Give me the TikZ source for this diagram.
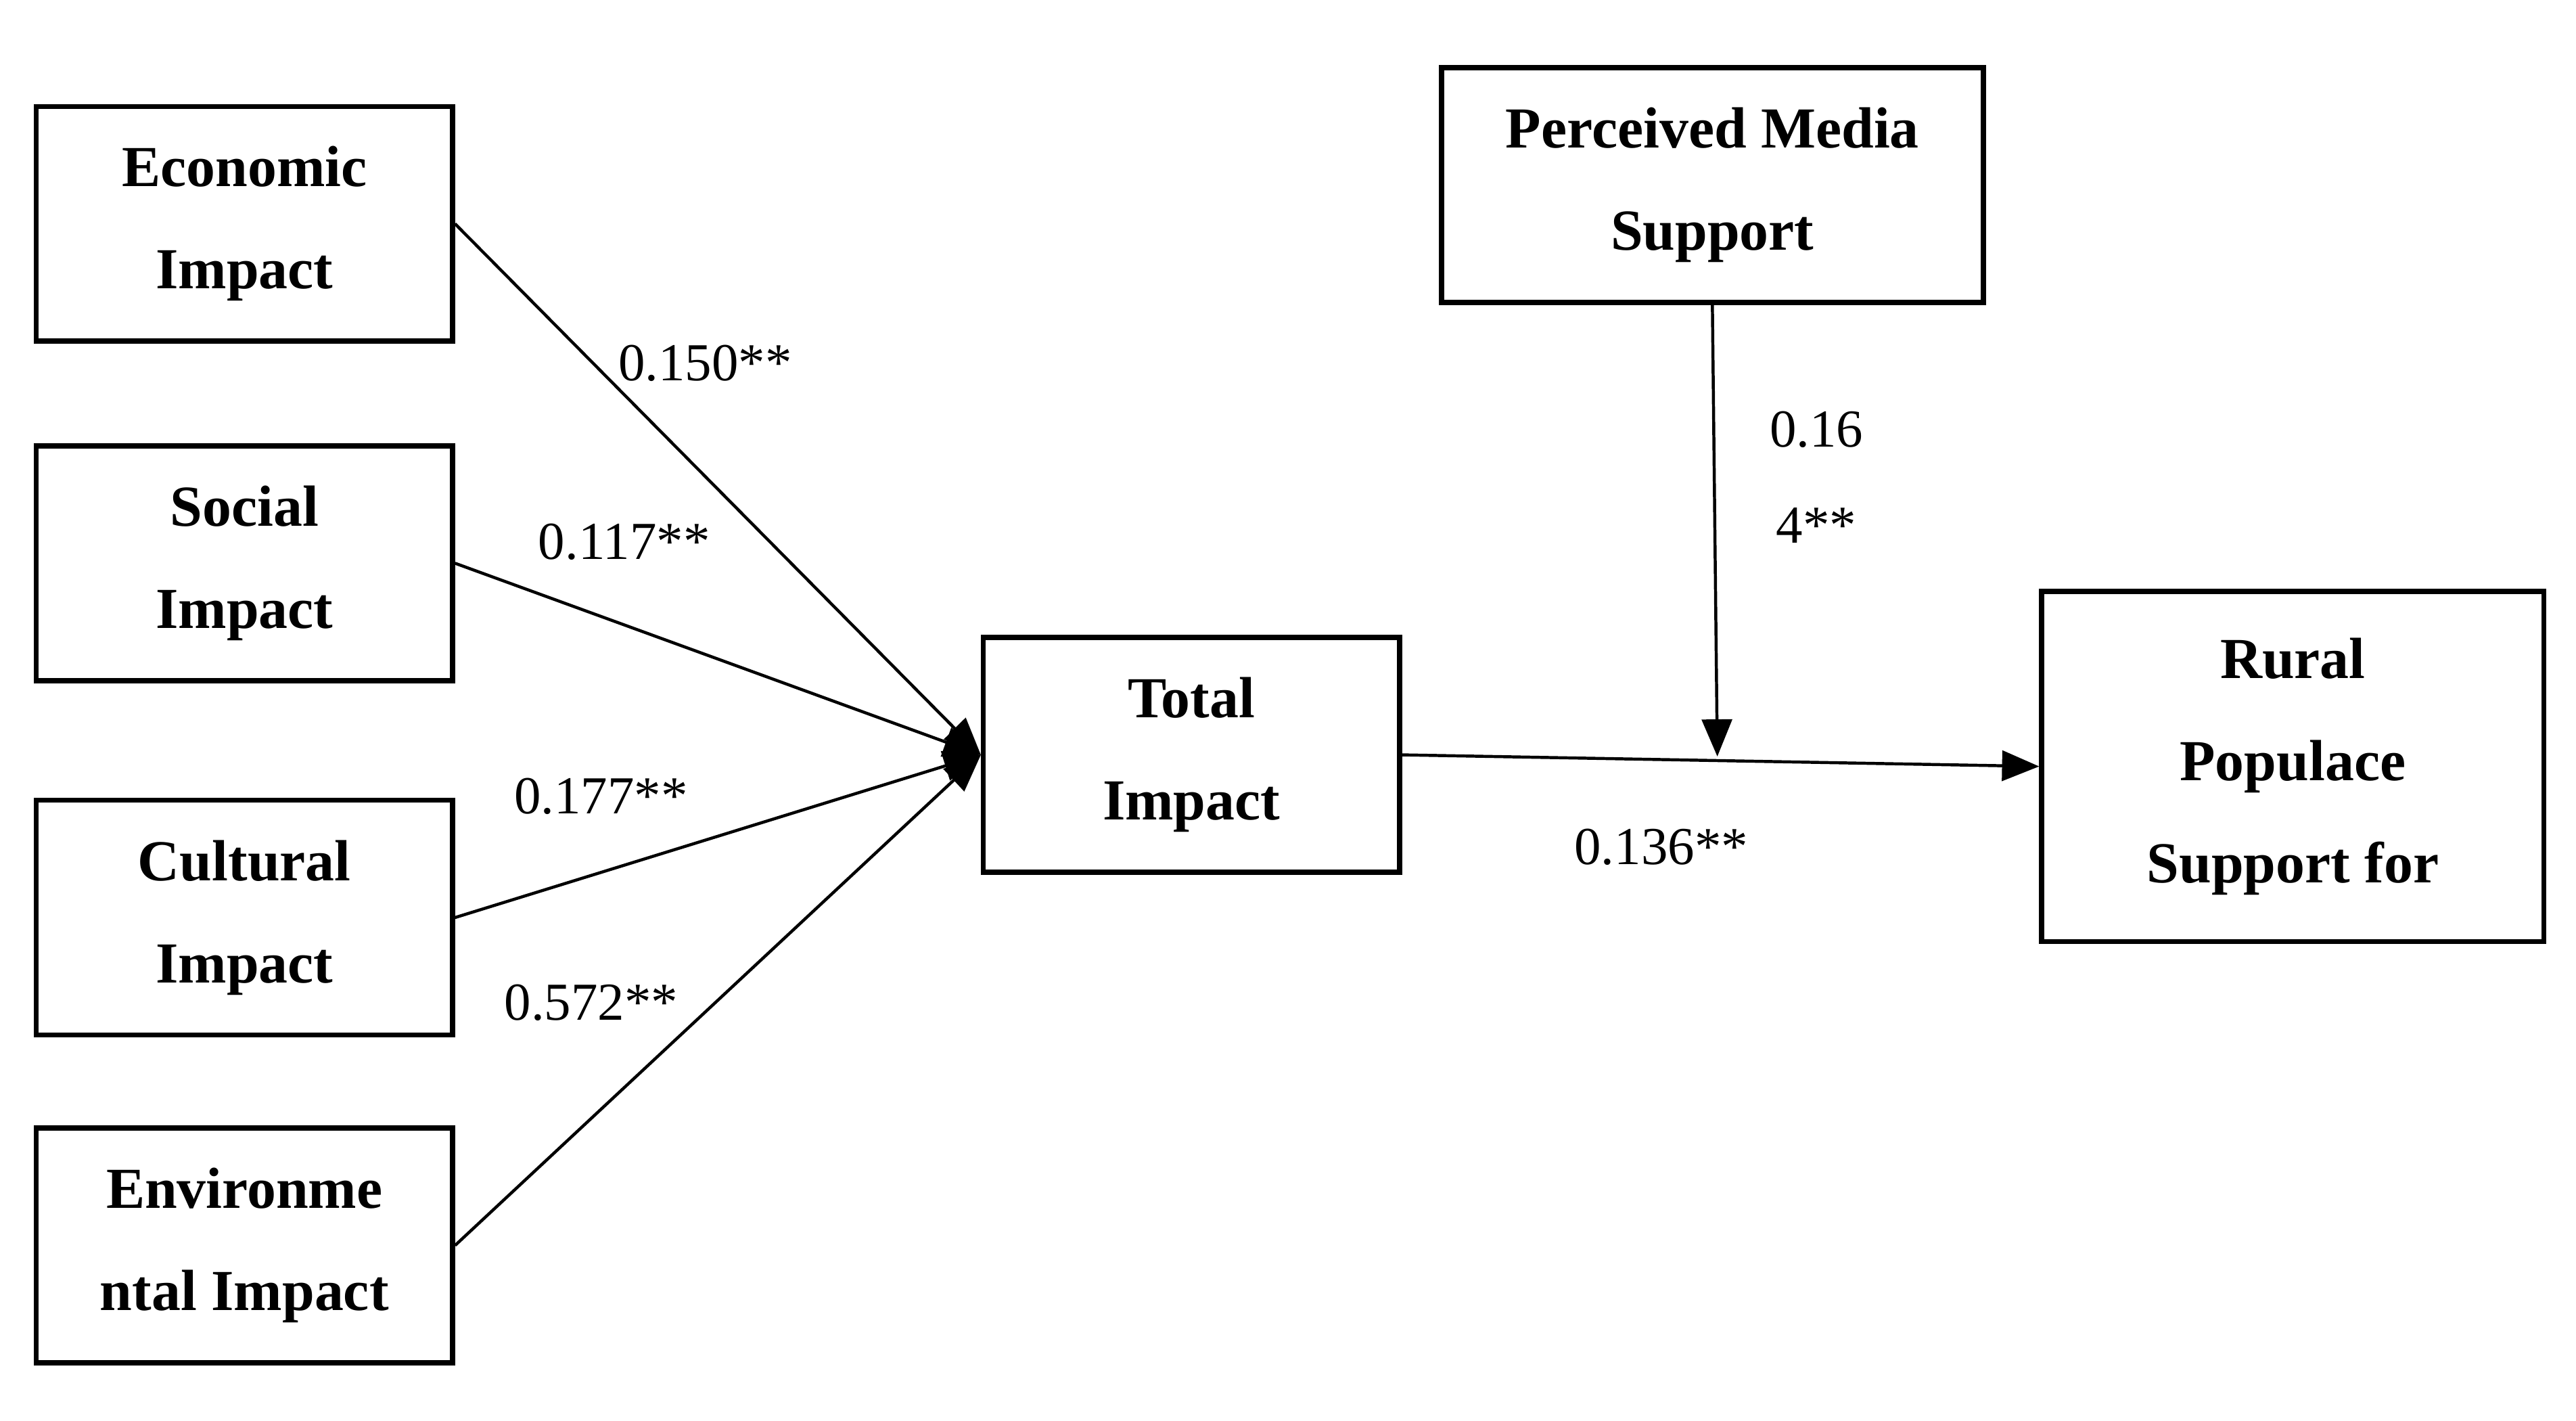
\documentclass[tikz,border=0pt]{standalone}
\usepackage{fontspec}
\setmainfont{Liberation Serif}
\usetikzlibrary{arrows.meta}
\begin{document}
\begin{tikzpicture}[x=0.025cm,y=-0.025cm,
  box/.style={draw,line width=2.2pt,inner sep=0pt,align=center,font=\fontsize{25}{44}\selectfont\bfseries},
  lab/.style={font=\fontsize{23}{30}\selectfont},
  arr/.style={line width=1.3pt,-{Triangle[length=16pt,width=13pt]}}]
\useasboundingbox (0,0) rectangle (1560,860);
\node[box,minimum width=6.3cm,minimum height=3.55cm] (eco) at (148,135.5) {Economic\\Impact};
\node[box,minimum width=6.3cm,minimum height=3.55cm] (soc) at (148,341) {Social\\Impact};
\node[box,minimum width=6.3cm,minimum height=3.55cm] (cul) at (148,555.5) {Cultural\\Impact};
\node[box,minimum width=6.3cm,minimum height=3.55cm] (env) at (148,754) {Environme\\ntal Impact};
\node[box,minimum width=6.3cm,minimum height=3.55cm] (tot) at (721.5,457) {Total\\Impact};
\node[box,minimum width=8.2cm,minimum height=3.55cm] (med) at (1037,112) {Perceived Media\\Support};
\node[box,minimum width=7.6cm,minimum height=5.3cm] (rur) at (1388.5,464) {Rural\\Populace\\Support for};
\coordinate (c) at (594,457);
\coordinate (m) at (1040,458);
\draw[arr] (eco.east) -- (c);
\draw[arr] (soc.east) -- (c);
\draw[arr] (cul.east) -- (c);
\draw[arr] (env.east) -- (c);
\draw[arr] (tot.east) -- (rur.west);
\draw[arr] (med.south) -- (m);
\node[lab] (l1) at (427,220) {0.150**};
\node[lab] (l2) at (378,328) {0.117**};
\node[lab] (l3) at (364,482) {0.177**};
\node[lab] (l4) at (358,607) {0.572**};
\node[lab] (l5) at (1100,260) {0.16};
\node[lab] (l6) at (1100,318) {4**};
\node[lab] (l7) at (1006,513) {0.136**};
\end{tikzpicture}
\end{document}
